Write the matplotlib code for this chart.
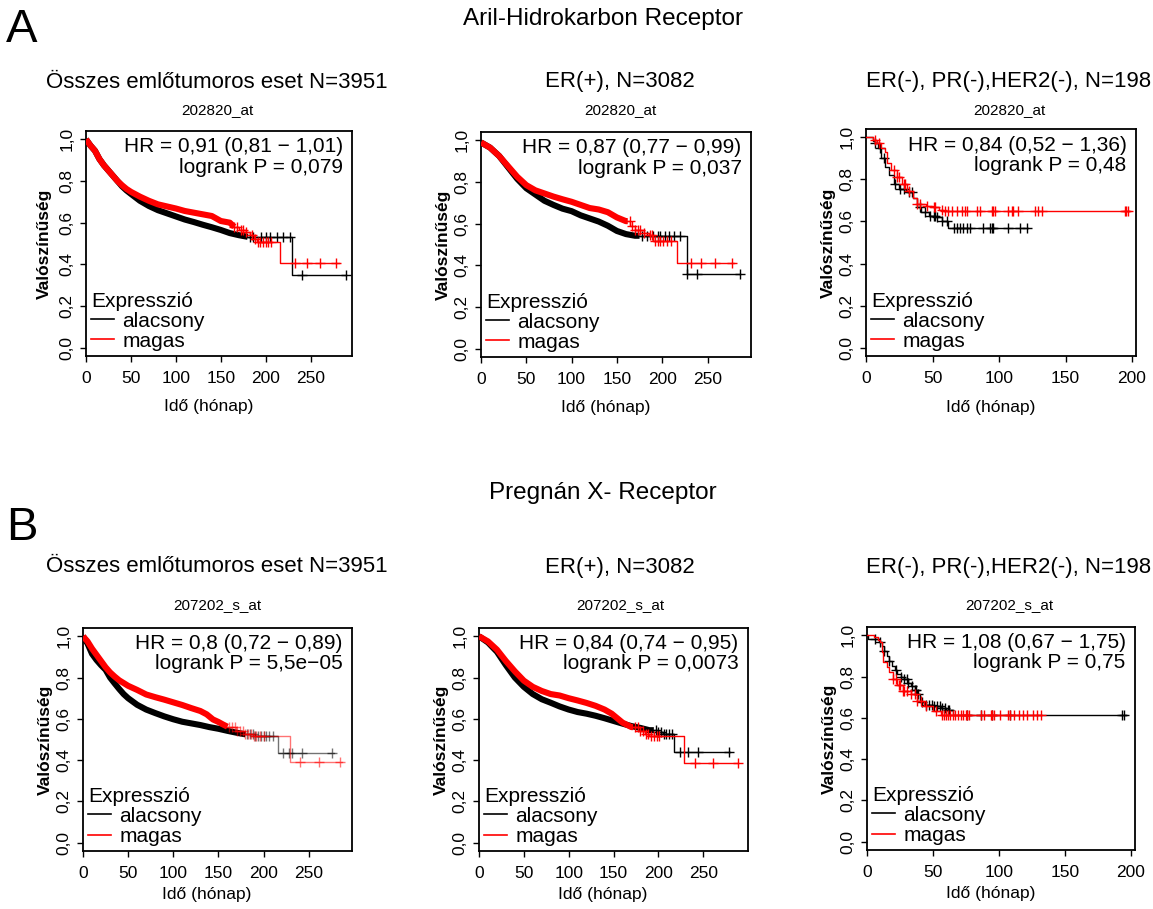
import numpy as np
import matplotlib
matplotlib.use("Agg")
import matplotlib.pyplot as plt
from matplotlib.lines import Line2D

plt.rcParams['font.family'] = ['Liberation Sans', 'DejaVu Sans']

# ------------------------------------------------------------------
# Kaplan-Meier step curves: knot times (months) and survival after each knot,
# plus censoring times.  "low" = alacsony expression, "high" = magas expression.
# ------------------------------------------------------------------

# A1: Aril-Hidrokarbon Receptor, all breast tumours
a1_low_t = [0, 5, 10, 15, 20, 25, 30, 35, 40, 45, 50, 60, 70, 80, 90, 100, 110, 120,
            130, 140, 150, 160, 170, 180, 229, 289]
a1_low_s = [1.0, 0.97, 0.945, 0.905, 0.875, 0.85, 0.825, 0.80, 0.775, 0.755, 0.738, 0.705,
            0.68, 0.66, 0.645, 0.63, 0.615, 0.603, 0.59, 0.578, 0.565, 0.55, 0.54, 0.532,
            0.35, 0.35]
a1_low_cens = [182, 186, 195, 200, 205, 212, 219, 227, 240, 289]
a1_high_t = [0, 5, 10, 15, 20, 25, 30, 35, 40, 45, 50, 60, 70, 80, 90, 100, 110, 120, 130,
             140, 145, 150, 160, 165, 170, 178, 183, 187, 190, 216, 281]
a1_high_s = [1.0, 0.97, 0.945, 0.905, 0.875, 0.85, 0.825, 0.80, 0.78, 0.762, 0.748, 0.725,
             0.705, 0.688, 0.678, 0.668, 0.656, 0.648, 0.64, 0.632, 0.62, 0.608, 0.60,
             0.58, 0.565, 0.555, 0.54, 0.52, 0.508, 0.404, 0.404]
a1_high_cens = [165, 168, 172, 175, 178, 185, 188, 191, 194, 197, 200, 203, 206,
                233, 246, 260, 278]

# A2: Aril-Hidrokarbon Receptor, ER(+)
a2_low_t = [0, 10, 20, 30, 40, 50, 60, 70, 80, 90, 100, 110, 120, 130, 140, 150, 160,
            170, 227, 286]
a2_low_s = [0.99, 0.965, 0.925, 0.87, 0.815, 0.77, 0.74, 0.71, 0.69, 0.672, 0.66, 0.64,
            0.625, 0.61, 0.59, 0.565, 0.55, 0.542, 0.36, 0.36]
a2_low_cens = [178, 183, 190, 195, 198, 203, 207, 213, 220, 227, 238, 286]
a2_high_t = [0, 10, 20, 30, 40, 50, 60, 70, 80, 90, 100, 110, 120, 130, 140, 150, 160,
             165, 170, 180, 185, 190, 216, 279]
a2_high_s = [0.99, 0.965, 0.925, 0.875, 0.825, 0.785, 0.76, 0.745, 0.73, 0.717, 0.705,
             0.69, 0.675, 0.668, 0.655, 0.63, 0.612, 0.59, 0.572, 0.555, 0.545, 0.515,
             0.41, 0.41]
a2_high_cens = [164, 167, 170, 173, 176, 180, 186, 189, 192, 195, 198, 201, 205, 210,
                232, 243, 258, 277]

# A3: Aril-Hidrokarbon Receptor, triple negative
a3_low_t = [0, 5, 7, 9, 11, 14, 17, 21, 25, 30, 35, 38, 41, 47, 53, 57, 62, 122]
a3_low_s = [1.0, 0.985, 0.973, 0.95, 0.90, 0.86, 0.822, 0.78, 0.756, 0.74, 0.714, 0.667,
            0.643, 0.627, 0.62, 0.603, 0.571, 0.571]
a3_low_cens = [7, 10.8, 13.3, 22, 25.8, 28.3, 32, 34.5, 40.8, 44.5, 48.3, 50.8, 52, 53.3,
               57, 60.8, 65.8, 68.3, 70.8, 73.3, 75.8, 78.3, 88.3, 93.3, 94.5, 95.8, 107,
               115.8, 120.8]
a3_high_t = [0, 5, 8, 11, 14, 16, 19, 23, 27, 31, 35, 38, 45, 50, 55, 58, 198]
a3_high_s = [1.0, 0.99, 0.973, 0.95, 0.93, 0.878, 0.846, 0.814, 0.78, 0.746, 0.714, 0.683,
             0.675, 0.668, 0.655, 0.648, 0.648]
a3_high_cens = [7, 9.5, 20.8, 23.3, 24.5, 28.3, 29.5, 32, 38.3, 40.8, 45.8, 50.8, 52, 57,
                59.5, 62, 64.5, 68.3, 72, 74.5, 75.8, 83.3, 85.8, 94.5, 95.8, 97, 107,
                109.5, 110.8, 114.5, 127, 129.5, 132, 194.5, 195.8, 197]

# B1: Pregnán X- Receptor, all breast tumours
b1_low_t = [0, 5, 10, 15, 20, 25, 30, 35, 40, 45, 50, 60, 70, 80, 90, 100, 110, 120, 130,
            140, 150, 160, 170, 180, 190, 216, 278]
b1_low_s = [1.0, 0.965, 0.915, 0.885, 0.86, 0.838, 0.80, 0.772, 0.745, 0.72, 0.70, 0.668,
            0.645, 0.628, 0.612, 0.598, 0.586, 0.578, 0.57, 0.56, 0.552, 0.542, 0.533,
            0.525, 0.518, 0.435, 0.435]
b1_low_cens = [182, 185, 188, 191, 194, 197, 200, 203, 206, 210, 222, 228, 232, 243, 276]
b1_high_t = [0, 5, 10, 15, 20, 25, 30, 35, 40, 50, 60, 70, 80, 90, 100, 110, 120, 130,
             137, 144, 150, 155, 160, 170, 180, 188, 229, 287]
b1_high_s = [1.0, 0.975, 0.94, 0.91, 0.88, 0.85, 0.825, 0.805, 0.787, 0.76, 0.74, 0.718,
             0.705, 0.693, 0.68, 0.667, 0.652, 0.638, 0.622, 0.597, 0.585, 0.573, 0.562,
             0.54, 0.528, 0.516, 0.39, 0.39]
b1_high_cens = [162, 165, 168, 171, 174, 177, 180, 183, 186, 189, 192, 196, 200,
                240, 261, 285]

# B2: Pregnán X- Receptor, ER(+)
b2_low_t = [0, 10, 20, 30, 40, 50, 60, 70, 80, 90, 100, 110, 120, 130, 140, 150, 160,
            170, 180, 190, 200, 205, 218, 280]
b2_low_s = [1.0, 0.97, 0.925, 0.86, 0.80, 0.755, 0.72, 0.695, 0.678, 0.66, 0.645, 0.633,
            0.625, 0.615, 0.603, 0.59, 0.577, 0.565, 0.556, 0.545, 0.535, 0.527, 0.439,
            0.439]
b2_low_cens = [197, 200, 203, 206, 209, 212, 215, 224, 233, 244, 279]
b2_high_t = [0, 10, 20, 30, 40, 50, 60, 70, 80, 90, 100, 110, 120, 130, 140, 148, 155,
             160, 170, 180, 185, 190, 229, 289]
b2_high_s = [1.0, 0.975, 0.935, 0.88, 0.83, 0.785, 0.755, 0.735, 0.72, 0.713, 0.70, 0.689,
             0.677, 0.663, 0.645, 0.625, 0.60, 0.582, 0.56, 0.54, 0.528, 0.518, 0.388,
             0.388]
b2_high_cens = [174, 177, 180, 183, 186, 189, 192, 195, 198, 201, 241, 261, 289]

# B3: Pregnán X- Receptor, triple negative
b3_low_t = [0, 1, 9, 11, 13, 15, 17, 19, 21, 23, 26, 28, 31, 33, 36, 38, 40, 44, 50, 56,
            60, 65, 196]
b3_low_s = [1.0, 0.98, 0.965, 0.949, 0.925, 0.90, 0.875, 0.853, 0.83, 0.81, 0.80, 0.788,
            0.77, 0.756, 0.735, 0.716, 0.676, 0.66, 0.655, 0.649, 0.64, 0.615, 0.615]
b3_low_cens = [6, 10, 13, 17, 22, 26, 28, 30, 31, 34, 36, 37, 39, 42, 45, 47, 49, 51, 53,
               55, 57, 59, 61, 62, 76, 86, 95, 108, 193, 195]
b3_high_t = [0, 5, 8, 10, 11, 12, 15, 17, 20, 23, 27, 33, 38, 43, 50, 56, 132]
b3_high_s = [1.0, 0.99, 0.975, 0.965, 0.92, 0.87, 0.845, 0.82, 0.788, 0.757, 0.732, 0.716,
             0.684, 0.655, 0.635, 0.612, 0.612]
b3_high_cens = [20, 22, 24, 25, 27, 28, 30, 33, 36, 38, 41, 45, 52, 57, 58, 60, 61, 63,
                65, 67, 69, 71, 73, 75, 76, 77, 86, 89, 94, 95, 96, 101, 107, 108, 111,
                115, 118, 121, 126, 129, 132]

# Panel texts
group_titles = ["Aril-Hidrokarbon Receptor", "Pregnán X- Receptor"]
group_letters = ["A", "B"]
subset_titles = ["Összes emlőtumoros eset N=3951", "ER(+), N=3082",
                 "ER(-), PR(-),HER2(-), N=198"]
probe_ids = ["202820_at", "207202_s_at"]
hr_texts = ["HR = 0,91 (0,81 − 1,01)", "HR = 0,87 (0,77 − 0,99)", "HR = 0,84 (0,52 − 1,36)",
            "HR = 0,8 (0,72 − 0,89)", "HR = 0,84 (0,74 − 0,95)", "HR = 1,08 (0,67 − 1,75)"]
p_texts = ["logrank P = 0,079", "logrank P = 0,037", "logrank P = 0,48",
           "logrank P = 5,5e−05", "logrank P = 0,0073", "logrank P = 0,75"]
y_ticks = [0.0, 0.2, 0.4, 0.6, 0.8, 1.0]
y_tick_labels = ["0,0", "0,2", "0,4", "0,6", "0,8", "1,0"]
x_ticks_long = [0, 50, 100, 150, 200, 250]
x_ticks_short = [0, 50, 100, 150, 200]
legend_title = "Expresszió"
legend_labels = ["alacsony", "magas"]

curves = [
    (a1_low_t, a1_low_s, a1_low_cens, a1_high_t, a1_high_s, a1_high_cens),
    (a2_low_t, a2_low_s, a2_low_cens, a2_high_t, a2_high_s, a2_high_cens),
    (a3_low_t, a3_low_s, a3_low_cens, a3_high_t, a3_high_s, a3_high_cens),
    (b1_low_t, b1_low_s, b1_low_cens, b1_high_t, b1_high_s, b1_high_cens),
    (b2_low_t, b2_low_s, b2_low_cens, b2_high_t, b2_high_s, b2_high_cens),
    (b3_low_t, b3_low_s, b3_low_cens, b3_high_t, b3_high_s, b3_high_cens),
]

# ------------------------------------------------------------------
# Layout (pixel boxes: left, top, right, bottom) and styling
# ------------------------------------------------------------------
W, H = 1153, 909
boxes = [(86, 131, 352, 356), (481, 132, 751, 357), (866, 129, 1136, 356),
         (83, 628, 352, 851), (479, 628, 748, 851), (867, 627, 1135, 850)]
x_max = [296, 298, 203, 298, 300, 203]
# time up to which censoring crosses merge into a solid band (low, high)
band_end = [(180, 165), (175, 162), (None, None), (180, 160), (195, 172), (None, None)]
tail_alpha = [1.0, 1.0, 1.0, 0.55, 1.0, 1.0]
col_centres = [217, 620, 1009]
RED = "#ff0000"

fig = plt.figure(figsize=(W / 100, H / 100), dpi=100)


def fx(x):
    return x / W


def fy(y):
    return 1 - y / H


def step_value(t, s, x):
    t = np.asarray(t, float)
    s = np.asarray(s, float)
    idx = np.searchsorted(t, np.asarray(x, float), side="right") - 1
    return s[np.clip(idx, 0, len(s) - 1)]


def draw_km(ax, t, s, cens, color, band, alpha):
    tt = np.asarray(t, float)
    ss = np.asarray(s, float)
    if band is None:
        ax.step(tt, ss, where="post", color=color, lw=1.0, alpha=alpha, zorder=3)
    else:
        # thousands of overlapping censoring crosses read as one thick trace
        keep = tt <= band
        sb_end = step_value(t, s, band)
        ax.plot(np.append(tt[keep], band), np.append(ss[keep], sb_end), color=color,
                lw=4.4, zorder=3, solid_capstyle="butt", solid_joinstyle="round")
        later = tt > band
        ax.step(np.append(band, tt[later]), np.append(sb_end, ss[later]), where="post",
                color=color, lw=1.0, alpha=alpha, zorder=3)
    ax.plot(cens, step_value(t, s, cens), ls="none", marker="+", ms=6.5, mew=1.0,
            color=color, alpha=alpha, zorder=3)


for i, (box, data) in enumerate(zip(boxes, curves)):
    l, t_, r, b = box
    ax = fig.add_axes([fx(l), fy(b), (r - l) / W, (b - t_) / H])
    lt, ls_, lc, ht, hs, hc = data
    draw_km(ax, lt, ls_, lc, "black", band_end[i][0], tail_alpha[i])
    draw_km(ax, ht, hs, hc, RED, band_end[i][1], tail_alpha[i])

    row, col = divmod(i, 3)
    ax.set_xlim(0, x_max[i])
    ax.set_ylim(-0.04, 1.04)
    ax.set_xticks(x_ticks_short if x_max[i] < 250 else x_ticks_long)
    ax.set_yticks(y_ticks)
    ax.set_yticklabels(y_tick_labels, rotation=90, va="center")
    ax.tick_params(direction="out", length=4.5, width=1.0, labelsize=12.5, pad=4)
    ax.tick_params(axis="x", pad=6)
    for sp in ax.spines.values():
        sp.set_linewidth(1.3)

    ax.set_xlabel("Idő (hónap)", fontsize=12.5, va="center")
    ax.xaxis.set_label_coords(0.46, -0.225 if row == 0 else -0.195)
    ax.set_ylabel("Valószínűség", fontsize=12.5, fontweight="bold", va="center")
    ax.yaxis.set_label_coords(-0.155 if i == 0 else -0.14, 0.5)

    ax.text(0.965, 0.905, hr_texts[i], transform=ax.transAxes, ha="right",
            va="baseline", fontsize=15)
    ax.text(0.965, 0.815, p_texts[i], transform=ax.transAxes, ha="right",
            va="baseline", fontsize=15)

    handles = [Line2D([], [], color="black", lw=1.2), Line2D([], [], color=RED, lw=1.2)]
    ax.legend(handles, legend_labels, title=legend_title, loc="lower left",
              frameon=False, fontsize=15, title_fontsize=15, handlelength=1.1,
              handletextpad=0.4, labelspacing=0.05, borderaxespad=0.0,
              borderpad=0.25, alignment="left")

    sub_y = 82 if row == 0 else 567
    pid_y = 110 if row == 0 else 605
    fig.text(fx(col_centres[col]), fy(sub_y), subset_titles[col], ha="center",
             va="center", fontsize=16)
    fig.text(fx(col_centres[col]), fy(pid_y), probe_ids[row], ha="center",
             va="center", fontsize=11)

for row, (ttl, letter) in enumerate(zip(group_titles, group_letters)):
    ty = 19 if row == 0 else 493
    ly = 30 if row == 0 else 528
    fig.text(fx(603), fy(ty), ttl, ha="center", va="center", fontsize=17.5)
    fig.text(fx(6), fy(ly), letter, ha="left", va="center", fontsize=34)

fig.savefig("out.png", dpi=100)
